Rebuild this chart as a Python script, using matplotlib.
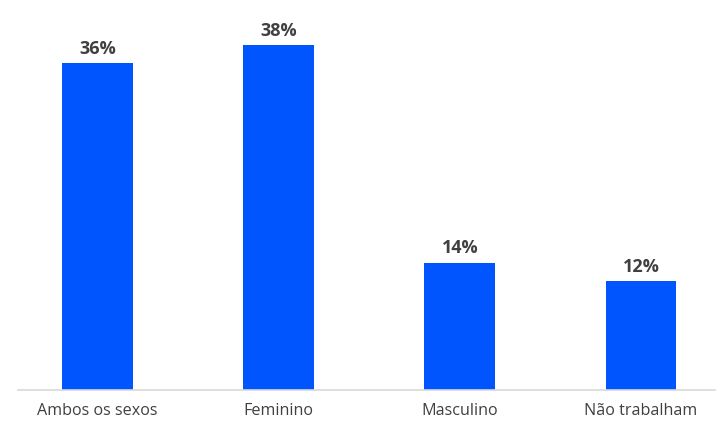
import matplotlib.pyplot as plt

# categories and values (%)
categories = ["Ambos os sexos", "Feminino", "Masculino", "Não trabalham"]
values = [36, 38, 14, 12]
labels = ["36%", "38%", "14%", "12%"]

plt.rcParams['font.family'] = ['Open Sans', 'DejaVu Sans']

fig = plt.figure(figsize=(7.18, 4.21), dpi=100)
ax = fig.add_axes([0.025, 0.0736, 0.971, 0.862])

x = range(len(categories))
bars = ax.bar(x, values, width=0.39, color='#0055FF')

for bar, lab in zip(bars, labels):
    ax.annotate(lab, (bar.get_x() + bar.get_width() / 2, bar.get_height()),
                xytext=(0, 4), textcoords='offset points',
                ha='center', va='bottom', fontsize=13, fontweight='bold',
                color='#404040')

ax.set_xticks(list(x))
ax.set_xticklabels(categories, fontsize=11.6, color='#404040')
ax.tick_params(axis='x', length=0, pad=9)
ax.set_yticks([])
ax.set_ylim(0, 40)
ax.set_xlim(-0.44, 3.41)

for side in ['top', 'right', 'left']:
    ax.spines[side].set_visible(False)
ax.spines['bottom'].set_color('#D9D9D9')
ax.spines['bottom'].set_linewidth(1.2)

fig.savefig("out.png", dpi=100)
